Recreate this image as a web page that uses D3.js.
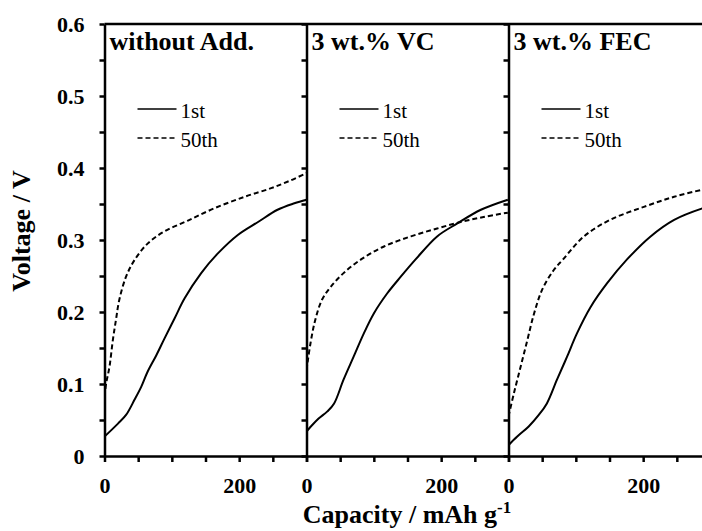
<!DOCTYPE html>
<html>
<head>
<meta charset="utf-8">
<script src="https://cdn.jsdelivr.net/npm/d3@7"></script>
<style>
body{margin:0;background:#fff;}
svg{display:block;}
.axis path,.axis line{stroke:#000;stroke-width:2.5;}
.axis text{font-family:"Liberation Serif","Times New Roman",serif;font-weight:bold;font-size:22px;fill:#000;}
</style>
</head>
<body>
<script>
// panels and legend
var panelNames=["without Add.","3 wt.% VC","3 wt.% FEC"];
var cycleNames=["1st","50th"];

// without Add.
var capNoAdd1st=[0,20,32,44.5,54.5,64,77,89,104,119,143.6,168,198,228,257,282,300];
var voltNoAdd1st=[0.027,0.045,0.057,0.078,0.096,0.117,0.140,0.163,0.191,0.219,0.254,0.281,0.307,0.325,0.342,0.351,0.356];
var capNoAdd50=[0,2.5,7.4,12.4,17,22,32,44.5,64,89,124,163,208,247.5,277,300];
var voltNoAdd50=[0.082,0.101,0.124,0.161,0.189,0.217,0.249,0.272,0.295,0.312,0.327,0.344,0.360,0.372,0.383,0.393];

// 3 wt.% VC
var capVC1st=[0,8.5,18,31,41,55,70,85,100,120,140,162,194,224,259,299];
var voltVC1st=[0.034,0.043,0.052,0.062,0.073,0.106,0.138,0.170,0.198,0.226,0.249,0.273,0.305,0.323,0.342,0.356];
var capVC50=[0,6,13,23,36,55,81,115,155,194,229,263,299];
var voltVC50=[0.119,0.157,0.189,0.217,0.235,0.254,0.273,0.291,0.305,0.316,0.325,0.332,0.338];

// 3 wt.% FEC
var capFEC1st=[0,13,30,45,57,72,87,101.5,122,146.5,176,211,246,288,300];
var voltFEC1st=[0.015,0.027,0.041,0.057,0.073,0.106,0.138,0.170,0.207,0.240,0.273,0.305,0.328,0.344,0.347];
var capFEC50=[0,8,18,28,38,50,67,81,112,151,201,246,288,300];
var voltFEC50=[0.055,0.087,0.124,0.161,0.198,0.231,0.258,0.273,0.305,0.328,0.346,0.360,0.370,0.373];

var yTicks=[0,0.05,0.1,0.15,0.2,0.25,0.3,0.35,0.4,0.45,0.5,0.55,0.6];
var yTickLabels=["0","0.1","0.2","0.3","0.4","0.5","0.6"];
var xTicks=[0,50,100,150,200,250,300];
var xTickLabels=[0,200];

(function(){
var series=[
	[[capNoAdd1st,voltNoAdd1st],[capNoAdd50,voltNoAdd50]],
	[[capVC1st,voltVC1st],[capVC50,voltVC50]],
	[[capFEC1st,voltFEC1st],[capFEC50,voltFEC50]]
];

var width=702,height=531;
var left=104.5,plotTop=24,plotBottom=456,panelW=202;
var font='"Liberation Serif", serif';

var svg=d3.select("body").append("svg").attr("width",width).attr("height",height);

var y=d3.scaleLinear().domain([0,0.6]).range([plotBottom,plotTop]);

// top frame line
svg.append("line")
	.attr("x1",left).attr("x2",width)
	.attr("y1",plotTop).attr("y2",plotTop)
	.attr("stroke","#000").attr("stroke-width",2.5);

panelNames.forEach(function(name,p){
	var x0=left+p*panelW;
	var x=d3.scaleLinear().domain([0,300]).range([x0,x0+panelW]);

	svg.append("clipPath").attr("id","clip"+p)
		.append("rect").attr("x",x0).attr("y",plotTop).attr("width",panelW).attr("height",plotBottom-plotTop);

	var line=d3.line()
		.x(function(d){return x(d[0]);})
		.y(function(d){return y(d[1]);})
		.curve(d3.curveCatmullRom.alpha(0.5));

	series[p].forEach(function(s,i){
		var pts=d3.zip(s[0],s[1]);
		svg.append("path")
			.datum(pts)
			.attr("clip-path","url(#clip"+p+")")
			.attr("fill","none")
			.attr("stroke","#000")
			.attr("stroke-width",2)
			.attr("stroke-dasharray",i==1?"5,3":null)
			.attr("d",line);
	});

	// y axis of each panel, labels only on the first
	svg.append("g").attr("class","axis")
		.attr("transform","translate("+x0+",0)")
		.call(d3.axisLeft(y).tickValues(yTicks).tickSize(5).tickSizeOuter(0).tickPadding(15)
			.tickFormat(function(d){
				if(p>0)return "";
				var lab=d3.format(".1f")(d);
				if(lab=="0.0")lab="0";
				return yTickLabels.indexOf(lab)>=0 && Math.abs(d*10-Math.round(d*10))<1e-6 ? lab : "";
			}));

	// x axis
	svg.append("g").attr("class","axis")
		.attr("transform","translate(0,"+plotBottom+")")
		.call(d3.axisBottom(x).tickValues(xTicks).tickSize(6).tickSizeOuter(0).tickPadding(15)
			.tickFormat(function(d){return xTickLabels.indexOf(d)>=0?d:"";}));

	// panel title
	svg.append("text")
		.attr("x",x0+5).attr("y",50)
		.style("font-family",font).style("font-weight","bold").style("font-size","26px")
		.text(name);

	// legend
	cycleNames.forEach(function(c,i){
		var ly=109+i*29;
		svg.append("line")
			.attr("x1",x0+33).attr("x2",x0+72)
			.attr("y1",ly).attr("y2",ly)
			.attr("stroke","#000").attr("stroke-width",1.5)
			.attr("stroke-dasharray",i==1?"5,3":null);
		svg.append("text")
			.attr("x",x0+76).attr("y",ly+9)
			.style("font-family",font).style("font-weight","normal").style("font-size","21px")
			.text(c);
	});
});

// axis titles
svg.append("text")
	.attr("transform","translate(30,231) rotate(-90)")
	.attr("text-anchor","middle")
	.style("font-family",font).style("font-weight","bold").style("font-size","26px")
	.text("Voltage / V");

var xt=svg.append("text")
	.attr("x",407).attr("y",523)
	.attr("text-anchor","middle")
	.style("font-family",font).style("font-weight","bold").style("font-size","26px");
xt.append("tspan").text("Capacity / mAh g");
xt.append("tspan").attr("dy","-10").style("font-size","17px").text("-1");
})();
</script>
</body>
</html>
